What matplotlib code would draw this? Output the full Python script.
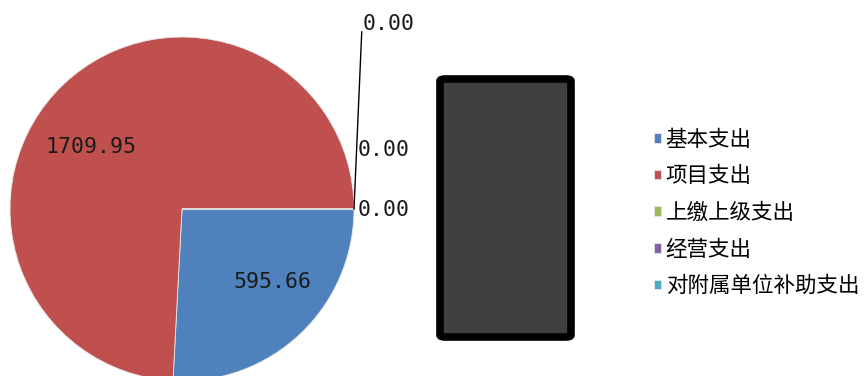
import numpy as np
import matplotlib
matplotlib.use("Agg")
import matplotlib.pyplot as plt
from matplotlib.patches import FancyBboxPatch

plt.rcParams['font.family'] = ['Noto Sans CJK SC', 'DejaVu Sans']

# expenditure breakdown
categories = ["基本支出", "项目支出", "上缴上级支出", "经营支出", "对附属单位补助支出"]
values = [595.66, 1709.95, 0.00, 0.00, 0.00]
colors = ["#4F81BD", "#C0504D", "#9BBB59", "#8064A2", "#4BACC6"]

W, H = 868, 376
fig = plt.figure(figsize=(W / 100, H / 100), dpi=100)

# pie axes: centre (182, 209) px, radius 172 px
cx, cy, r = 182, 209, 172
ax = fig.add_axes([(cx - r) / W, 1 - (cy + r) / H, 2 * r / W, 2 * r / H])
wedges, _ = ax.pie(values, colors=colors, startangle=0, counterclock=False,
                   radius=1, wedgeprops=dict(linewidth=0.6, edgecolor="#e8e8e8"))
ax.set_xlim(-1, 1)
ax.set_ylim(-1, 1)
ax.set_aspect("equal")
ax.axis("off")

mono = "DejaVu Sans Mono"
# labels for the two non-zero slices
offsets = {0: (0.523, -0.424), 1: (-0.529, 0.36)}
for i, (dx, dy) in offsets.items():
    ax.text(dx, dy, f"{values[i]:.2f}", ha="center", va="center",
            fontsize=15.5, family=mono, color="#1a1a1a")

# labels for the zero slices, outside to the right
zero_pos = [(1.05, 1.076), (1.02, 0.343), (1.02, -0.006)]
for (x, y), v in zip(zero_pos, values[2:]):
    ax.text(x, y, f"{v:.2f}", ha="left", va="center",
            fontsize=15.5, family=mono, color="#1a1a1a", clip_on=False)
ax.plot([1.0, 1.045], [0.0, 1.03], color="black", lw=1.0, clip_on=False)

# dark rounded box in the middle
box = FancyBboxPatch((440 / W, 1 - 337 / H), 131 / W, 258 / H,
                     boxstyle="round,pad=0,rounding_size=0.006",
                     transform=fig.transFigure, facecolor="#404040",
                     edgecolor="black", linewidth=5.5)
fig.patches.append(box)

fig.legend(wedges, categories, loc="center left",
           bbox_to_anchor=(654 / W, 1 - 213 / H), frameon=False,
           fontsize=15.5, handlelength=0.32, handleheight=0.32,
           handletextpad=0.22, labelspacing=0.68, borderpad=0,
           borderaxespad=0)

fig.savefig("out.png", dpi=100)
